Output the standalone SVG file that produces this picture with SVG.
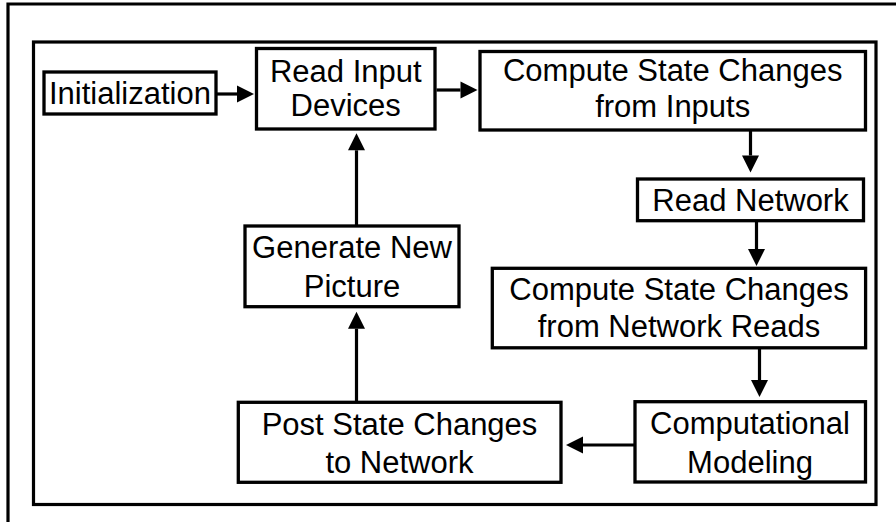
<svg xmlns="http://www.w3.org/2000/svg" width="896" height="522" viewBox="0 0 896 522">
  <style>
    .frame { fill: none; stroke: #000; stroke-width: 3.2; }
    .box { fill: #fff; stroke: #000; stroke-width: 3.3; }
    .lbl { font-family: "Liberation Sans", Arial, sans-serif; font-size: 31px; fill: #000; text-anchor: middle; }
    .conn { fill: none; stroke: #000; stroke-width: 3.2; marker-end: url(#head); }
  </style>
  <defs>
    <!-- solid triangular arrowhead; its base sits on the line end -->
    <marker id="head" markerUnits="userSpaceOnUse" viewBox="0 0 17 17" refX="0" refY="8.5" markerWidth="17" markerHeight="17" orient="auto" overflow="visible">
      <path d="M0,0 L17,8.5 L0,17 Z" fill="#000"/>
    </marker>
  </defs>

  <rect width="896" height="522" fill="#fff"/>

  <!-- outer page frame (only top and left edges fall inside the canvas) -->
  <path class="frame" d="M8,522 V4 H896" stroke-width="2.8"/>
  <!-- inner frame -->
  <rect class="frame" x="33.5" y="42" width="842.5" height="462.5"/>

  <g id="connectors">
    <path class="conn" d="M216,94 H237"/>
    <path class="conn" d="M436.5,90 H460.5"/>
    <path class="conn" d="M750.5,131 V155.5"/>
    <path class="conn" d="M756.5,221.5 V249"/>
    <path class="conn" d="M759.5,349 V380"/>
    <path class="conn" d="M634,445 H583"/>
    <path class="conn" d="M356.5,401 V328.7"/>
    <path class="conn" d="M356.5,225 V150.3"/>
  </g>

  <g id="initialization">
    <rect class="box" x="44" y="72" width="172" height="42"/>
    <text class="lbl" x="130" y="104">Initialization</text>
  </g>

  <g id="read-input-devices">
    <rect class="box" x="256.5" y="48.5" width="178.5" height="80.5"/>
    <text class="lbl" x="345.75" y="81.7">Read Input</text>
    <text class="lbl" x="345.75" y="116">Devices</text>
  </g>

  <g id="compute-from-inputs">
    <rect class="box" x="480" y="51.5" width="385.5" height="78.5"/>
    <text class="lbl" x="672.7" y="81">Compute State Changes</text>
    <text class="lbl" x="672.7" y="117.3">from Inputs</text>
  </g>

  <g id="read-network">
    <rect class="box" x="637.5" y="179" width="226" height="41.7"/>
    <text class="lbl" x="750.5" y="211">Read Network</text>
  </g>

  <g id="compute-from-network">
    <rect class="box" x="492.3" y="268.3" width="373.3" height="79.5"/>
    <text class="lbl" x="679" y="300">Compute State Changes</text>
    <text class="lbl" x="679" y="337.3">from Network Reads</text>
  </g>

  <g id="computational-modeling">
    <rect class="box" x="635" y="401.7" width="230.5" height="80.3"/>
    <text class="lbl" x="750" y="434.3">Computational</text>
    <text class="lbl" x="750" y="472.5">Modeling</text>
  </g>

  <g id="post-state-changes">
    <rect class="box" x="238.3" y="402.3" width="322.7" height="80"/>
    <text class="lbl" x="399.5" y="435">Post State Changes</text>
    <text class="lbl" x="399.5" y="473.3">to Network</text>
  </g>

  <g id="generate-new-picture">
    <rect class="box" x="245" y="226" width="214" height="80.7"/>
    <text class="lbl" x="352" y="258.3">Generate New</text>
    <text class="lbl" x="352" y="296.7">Picture</text>
  </g>
</svg>
